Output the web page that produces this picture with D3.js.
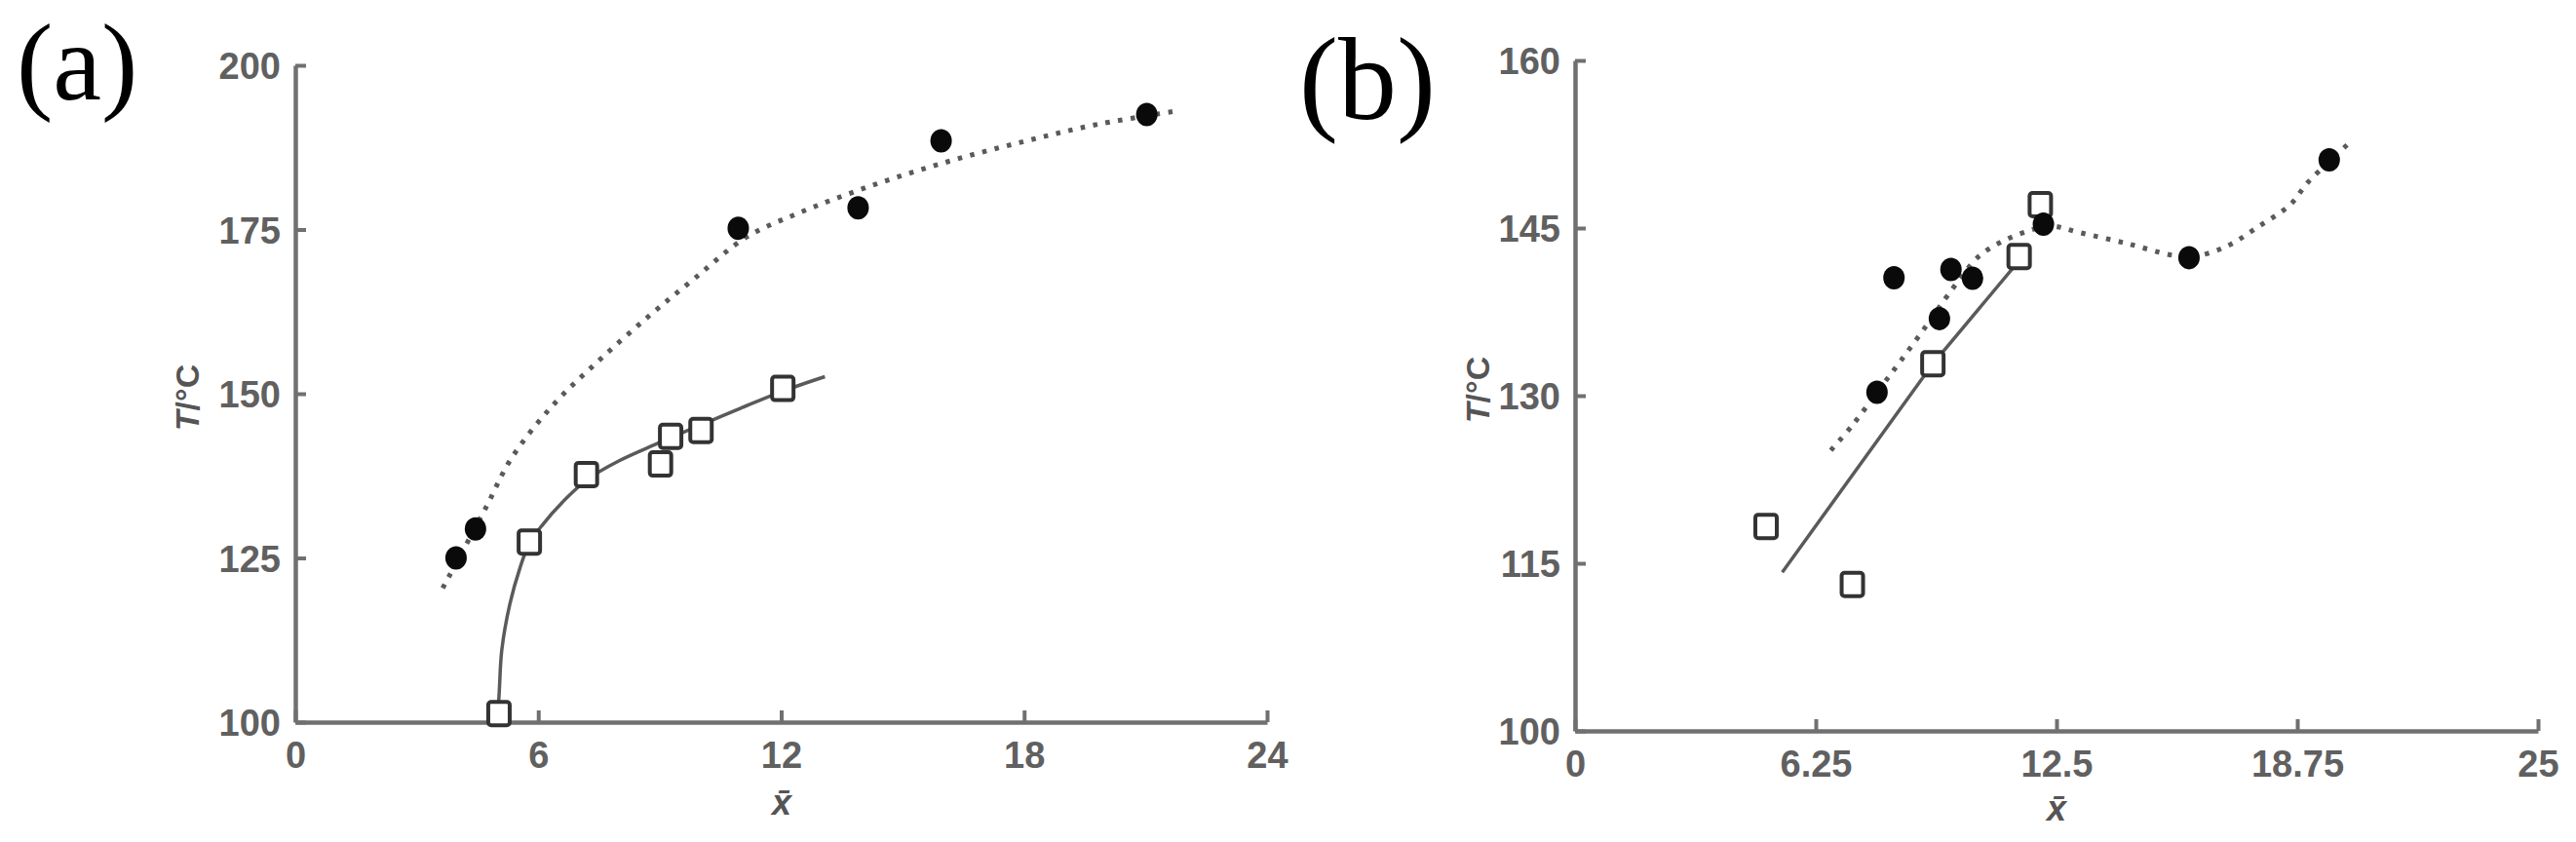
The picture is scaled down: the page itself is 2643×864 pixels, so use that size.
<!DOCTYPE html>
<html>
<head>
<meta charset="utf-8">
<script src="https://cdn.jsdelivr.net/npm/d3@7"></script>
<style>
  html, body { margin: 0; padding: 0; background: #fff; }
  svg { display: block; }
</style>
</head>
<body>
<svg id="chart" width="2643" height="864"></svg>
<script>
// ---------------- Data ----------------
// Panel (a)
const aXTicks = [0, 6, 12, 18, 24];
const aYTicks = [100, 125, 150, 175, 200];
const aFilled = [[3.97,125.0],[4.45,129.4],[10.94,175.2],[13.9,178.3],[15.95,188.5],[21.03,192.5]];
const aOpen = [[5.03,101.3],[5.78,127.4],[7.19,137.7],[9.02,139.3],[9.27,143.5],[10.02,144.4],[12.04,150.8]];
const aSolidCurve = [[5.0,100.5],[5.04,105],[5.1,111],[5.3,118],[5.55,123.5],[5.78,127.2],[6.1,130],[6.6,133.5],[7.2,136.9],[8.0,139.8],[8.9,142.3],[10.0,145.2],[11.0,147.8],[12.04,150.4],[13.08,152.6]];
const aDottedCurve = [[3.64,120.4],[4.71,132.7],[5.33,140.1],[6.34,148.1],[7.47,154.9],[8.73,161.8],[9.87,167.6],[11.13,173.8],[12.39,177.4],[14.15,181.5],[16.04,185.2],[17.93,188.3],[19.81,191.0],[21.83,193.1]];

// Panel (b)
const bXTicks = [0, 6.25, 12.5, 18.75, 25];
const bXTickLabels = ["0", "6.25", "12.5", "18.75", "25"];
const bYTicks = [100, 115, 130, 145, 160];
const bFilled = [[7.84,130.3],[8.28,140.55],[9.46,136.9],[9.76,141.3],[10.32,140.5],[12.16,145.35],[15.94,142.35],[19.58,151.1]];
const bOpen = [[4.96,118.3],[7.2,113.1],[9.29,132.85],[11.53,142.45],[12.08,147.1]];
const bSolidLine = [[5.38,114.2],[9.29,132.85],[11.8,143.2]];
const bDottedCurve = [[6.64,125.1],[7.19,127.3],[7.84,130.3],[8.45,133.1],[9.13,136.3],[9.68,139.0],[10.48,142.45],[11.15,143.9],[11.82,144.8],[12.33,145.2],[13.09,144.6],[14.35,143.6],[15.45,142.6],[15.96,142.4],[16.88,143.3],[17.73,145.1],[18.57,147.1],[19.03,149.1],[20.16,152.8]];

const panelLabels = ["(a)", "(b)"];
const yTitle = "/°C";
const xTitle = "x\u0304";

// ---------------- Drawing ----------------
const svg = d3.select("#chart");
const tickFont = "'Liberation Sans', Arial, sans-serif";
const axisColor = "#707070";
const lineColor = "#5a5a5a";

function drawPanel(cfg) {
  const x = d3.scaleLinear().domain(cfg.xDomain).range(cfg.xRange);
  const y = d3.scaleLinear().domain(cfg.yDomain).range(cfg.yRange);
  const g = svg.append("g");

  // axes
  const xAxis = d3.axisBottom(x).tickValues(cfg.xTicks).tickSize(-12).tickSizeOuter(0).tickPadding(20)
    .tickFormat((d, i) => cfg.xLabels ? cfg.xLabels[i] : String(d));
  const gx = g.append("g").attr("transform", `translate(0,${cfg.yRange[0]})`).call(xAxis);
  const yAxis = d3.axisLeft(y).tickValues(cfg.yTicks).tickSize(-11).tickSizeOuter(0).tickPadding(15);
  const gy = g.append("g").attr("transform", `translate(${cfg.xRange[0]},0)`).call(yAxis);

  [gx, gy].forEach(ax => {
    ax.select(".domain").attr("stroke", axisColor).attr("stroke-width", 4.5);
    ax.selectAll(".tick line").attr("stroke", axisColor).attr("stroke-width", 4);
    ax.selectAll(".tick text").attr("fill", "#606060").attr("font-family", tickFont)
      .attr("font-size", 38).attr("font-weight", "bold");
  });
  gy.selectAll(".tick text").attr("dy", "0.36em");

  // curves
  const lineGen = d3.line().x(d => x(d[0])).y(d => y(d[1]));
  g.append("path").datum(cfg.dotted)
    .attr("d", lineGen.curve(d3.curveCatmullRom.alpha(0.5)))
    .attr("fill", "none").attr("stroke", lineColor).attr("stroke-width", 5)
    .attr("stroke-dasharray", "4.5,8.5");
  g.append("path").datum(cfg.solid)
    .attr("d", lineGen.curve(cfg.solidCurve))
    .attr("fill", "none").attr("stroke", lineColor).attr("stroke-width", 3.5);

  // markers
  g.selectAll(".sq").data(cfg.open).join("rect")
    .attr("x", d => x(d[0]) - 11).attr("y", d => y(d[1]) - 12)
    .attr("width", 22).attr("height", 24).attr("rx", 3)
    .attr("fill", "#fff").attr("stroke", "#333").attr("stroke-width", 4);
  g.selectAll(".dot").data(cfg.filled).join("ellipse")
    .attr("cx", d => x(d[0])).attr("cy", d => y(d[1]))
    .attr("rx", 11).attr("ry", 12).attr("fill", "#0a0a0a");

  // axis titles
  const yt = g.append("text")
    .attr("transform", `translate(${cfg.yTitlePos[0]},${cfg.yTitlePos[1]}) rotate(-90)`)
    .attr("text-anchor", "middle").attr("font-family", tickFont)
    .attr("font-size", 34).attr("font-weight", "bold").attr("fill", "#555");
  yt.append("tspan").attr("font-style", "italic").text("T");
  yt.append("tspan").text(yTitle);

  g.append("text").attr("x", cfg.xTitlePos[0]).attr("y", cfg.xTitlePos[1])
    .attr("text-anchor", "middle").attr("font-family", tickFont)
    .attr("font-size", 36).attr("font-style", "italic").attr("font-weight", "bold")
    .attr("fill", "#555").text(xTitle);

  // panel label
  svg.append("text").attr("x", cfg.labelPos[0]).attr("y", cfg.labelPos[1])
    .attr("font-family", "'Liberation Serif', 'Times New Roman', serif")
    .attr("font-size", cfg.labelSize).attr("fill", "#000").text(cfg.label);
}

drawPanel({
  xDomain: [0, 24], xRange: [303, 1300],
  yDomain: [100, 200], yRange: [741, 67],
  xTicks: aXTicks, yTicks: aYTicks,
  filled: aFilled, open: aOpen,
  solid: aSolidCurve, solidCurve: d3.curveCatmullRom.alpha(0.5),
  dotted: aDottedCurve,
  yTitlePos: [204, 408], xTitlePos: [802, 836],
  label: panelLabels[0], labelPos: [17, 102], labelSize: 112
});

drawPanel({
  xDomain: [0, 25], xRange: [1616, 2604],
  yDomain: [100, 160], yRange: [750, 62],
  xTicks: bXTicks, xLabels: bXTickLabels, yTicks: bYTicks,
  filled: bFilled, open: bOpen,
  solid: bSolidLine, solidCurve: d3.curveLinear,
  dotted: bDottedCurve,
  yTitlePos: [1528, 400], xTitlePos: [2110, 842],
  label: panelLabels[1], labelPos: [1333, 122], labelSize: 120
});
</script>
</body>
</html>
